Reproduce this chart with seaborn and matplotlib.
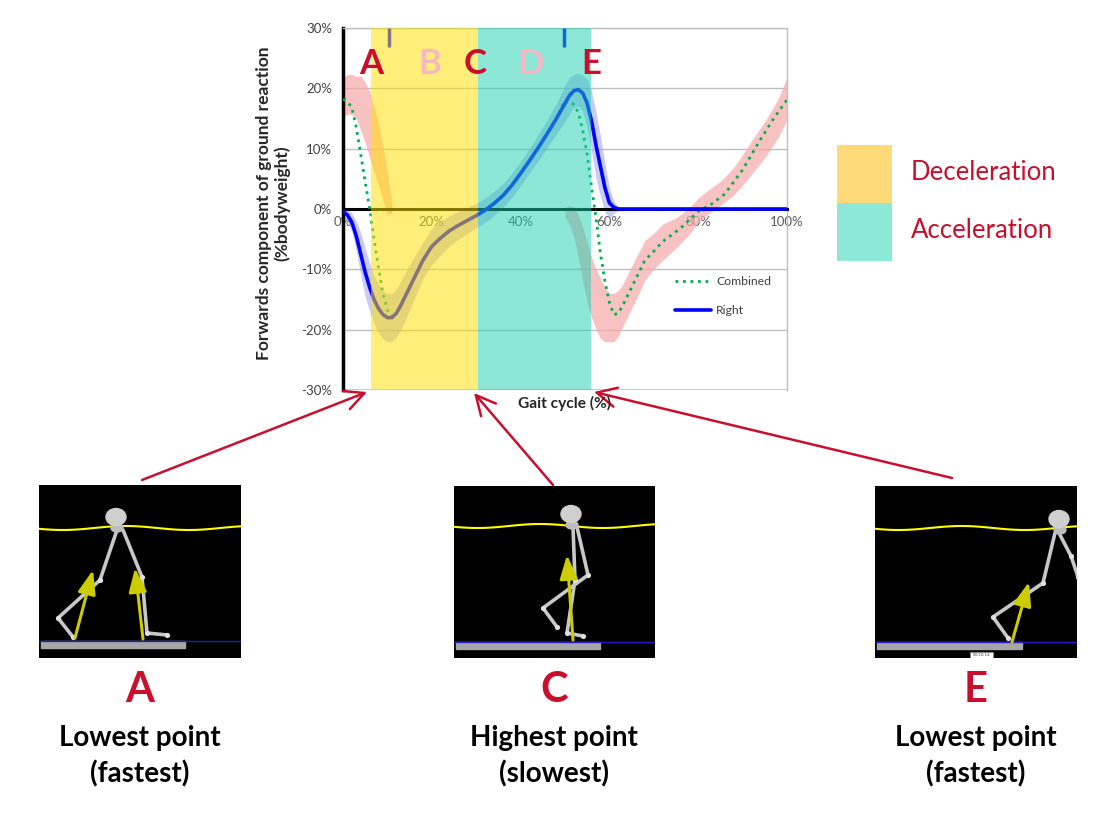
import numpy as np
import pandas as pd
import matplotlib
matplotlib.use("Agg")
import matplotlib.pyplot as plt
from matplotlib.patches import FancyArrowPatch, Rectangle, Ellipse
import seaborn as sns

# ---------------- data ----------------
right_x = [0, 1, 2, 3, 4, 5, 6, 7, 8, 9, 10, 11, 12, 13, 14, 16, 18, 20, 22, 24, 26, 28, 30,
           32, 34, 36, 38, 40, 42, 44, 46, 48, 50, 51, 52, 53, 54, 55, 56, 57, 58, 59, 60,
           61, 62, 64, 70, 80, 90, 100]
right_y = [-0.4, -1.0, -2.2, -4.5, -7.5, -10.5, -13.0, -15.0, -16.5, -17.5, -18.0, -18.0, -17.3,
           -16.0, -14.5, -11.5, -8.5, -6.2, -4.8, -3.6, -2.7, -1.9, -1.1,
           -0.2, 0.9, 2.2, 3.9, 5.9, 8.0, 10.2, 12.5, 14.9, 17.5, 18.8, 19.6, 19.8, 19.2, 17.5,
           14.5, 10.5, 7.0, 3.5, 1.0, 0.3, 0.0, 0.0, 0.0, 0.0, 0.0, 0.0]
right_spread = [0.5, 1.0, 1.5, 2.5, 3.5, 4.0, 4.0, 4.0, 4.0, 4.0, 4.0, 4.0, 4.0, 4.0, 4.0, 3.5,
                3.0, 3.0, 2.8, 2.5, 2.3, 2.2, 2.0, 2.0, 2.0, 2.0, 2.0, 2.0, 2.0, 2.2, 2.3, 2.5,
                3.0, 3.0, 2.7, 2.7, 3.0, 4.0, 5.0, 5.5, 5.0, 4.0, 2.5, 1.0, 0.3, 0.0, 0.0, 0.0,
                0.0, 0.0]

left_early_x = [0, 1, 2, 3, 4, 5, 6, 7, 8, 9, 10, 11]
left_early_y = [18.5, 19.0, 19.0, 18.5, 17.5, 16.0, 14.0, 11.5, 9.0, 6.0, 2.5, 0.3]
left_early_spread = [3.3, 3.3, 3.3, 3.5, 4.5, 5.0, 5.5, 5.5, 5.0, 4.5, 3.5, 1.0]

left_late_x = [50, 51, 52, 53, 54, 55, 56, 57, 58, 59, 60, 61, 62, 63, 64, 66, 68, 70, 72, 75,
               78, 80, 82, 85, 88, 90, 92, 95, 98, 100]
left_late_y = [-0.5, -1.0, -2.2, -4.5, -7.5, -10.5, -13.0, -15.0, -16.5, -17.5, -18.0, -18.0,
               -17.3, -16.0, -14.5, -11.5, -8.5, -7.0, -5.5, -4.0, -2.0, -0.2, 1.0, 2.6, 4.6,
               6.5, 8.5, 11.5, 15.0, 18.3]
left_late_spread = [0.8, 1.5, 2.5, 3.5, 4.5, 5.0, 5.0, 5.0, 5.0, 4.5, 4.0, 4.0, 3.8, 3.5, 3.5,
                    3.5, 3.3, 3.0, 3.0, 2.5, 2.2, 2.0, 2.0, 2.0, 2.3, 2.5, 2.8, 3.0, 3.2, 3.5]

combined_x = [0, 1, 2, 3, 4, 5, 6, 7, 8, 9, 10, 10.5, 11, 12, 13, 14, 16, 18, 20, 22, 24, 26,
              28, 30, 32, 34, 36, 38, 40, 42, 44, 46, 48, 50, 51, 52, 53, 54, 55, 56, 57, 58,
              59, 60, 61, 62, 63, 64, 66, 68, 70, 72, 76, 80, 83, 86, 90, 94, 97, 100]
combined_y = [18.2, 17.8, 16.8, 13.5, 9.0, 4.5, 0.1, -5.0, -9.8, -14.0, -16.8, -17.5, -17.8,
              -17.3, -16.0, -14.5, -11.5, -8.5, -6.2, -4.8, -3.6, -2.7, -1.9, -1.1, -0.2, 0.9,
              2.2, 3.9, 5.9, 8.0, 10.2, 12.5, 14.9, 18.1, 17.8, 17.3, 16.0, 13.0, 9.0, 3.5,
              -1.5, -7.5, -12.0, -15.5, -17.5, -17.3, -16.0, -14.5, -11.5, -8.5, -7.0, -5.4,
              -3.2, -0.4, 0.8, 2.5, 6.5, 11.5, 15.0, 18.1]

phase_names = ["Deceleration", "Acceleration"]
phase_edges = [6.3, 30.4, 55.9]
event_letters = ["A", "B", "C", "D", "E"]
event_x = [6.3, 19.6, 29.7, 42.3, 56.0]
marker_x = [10.3, 49.8]
x_ticks = [0, 20, 40, 60, 80, 100]
y_ticks = [-30, -20, -10, 0, 10, 20, 30]
panel_letters = ["A", "C", "E"]
panel_caption_1 = ["Lowest point", "Highest point", "Lowest point"]
panel_caption_2 = ["(fastest)", "(slowest)", "(fastest)"]

# ---------------- styling ----------------
W, H = 1109, 819
sns.set_theme(style="white")
plt.rcParams["font.family"] = ["Lato", "DejaVu Sans"]

CRIMSON = "#C8102E"
PINK = "#F7B8C2"
YELLOW_OV = "#FFE100"
TEAL_OV = "#1DD1B1"
BLUE = "#0000FF"
GREEN = "#00B050"


def fbox(x0, y0, x1, y1):
    return [x0 / W, 1 - y1 / H, (x1 - x0) / W, (y1 - y0) / H]


fig = plt.figure(figsize=(W / 100, H / 100), dpi=100)
fig.patch.set_facecolor("white")

ax = fig.add_axes(fbox(343, 28, 787, 390))
ax.set_xlim(0, 100)
ax.set_ylim(-30, 30)

# gridlines
for yv in y_ticks:
    ax.axhline(yv, color="#BFBFBF", lw=1.0, zorder=0)

# bands
ax.fill_between(left_early_x, np.array(left_early_y) - np.array(left_early_spread),
                np.array(left_early_y) + np.array(left_early_spread),
                color="#F7A9A8", alpha=0.7, lw=0, zorder=1)
ax.fill_between(left_late_x, np.array(left_late_y) - np.array(left_late_spread),
                np.array(left_late_y) + np.array(left_late_spread),
                color="#F7A9A8", alpha=0.7, lw=0, zorder=1)
ax.fill_between(right_x, np.array(right_y) - np.array(right_spread),
                np.array(right_y) + np.array(right_spread),
                color="#A0A0F0", alpha=0.55, lw=0, zorder=1.2)

df_comb = pd.DataFrame({"x": combined_x, "y": combined_y, "series": "Combined"})
df_right = pd.DataFrame({"x": right_x, "y": right_y, "series": "Right"})
sns.lineplot(data=df_comb, x="x", y="y", ax=ax, color=GREEN, lw=2.0,
             linestyle=(0, (1, 1.7)), label="Combined", zorder=3)
sns.lineplot(data=df_right, x="x", y="y", ax=ax, color=BLUE, lw=2.6,
             label="Right", zorder=3.2, solid_joinstyle="round")

# toe-off / heel-strike markers
for mx in marker_x:
    ax.plot([mx, mx], [30, 26.8], color=BLUE, lw=2.5, zorder=3, solid_capstyle="butt")

# phase overlays
ax.axvspan(phase_edges[0], phase_edges[1], color=YELLOW_OV, alpha=0.52, lw=0, zorder=4)
ax.axvspan(phase_edges[1], phase_edges[2], color=TEAL_OV, alpha=0.5, lw=0, zorder=4)

# event letters
for lt, xv in zip(event_letters, event_x):
    col = CRIMSON if lt in ("A", "C", "E") else PINK
    ax.text(xv, 24, lt, color=col, fontsize=25, fontweight="bold",
            ha="center", va="center", zorder=6)

# axes / spines
ax.spines["left"].set_color("black")
ax.spines["left"].set_linewidth(2.5)
ax.spines["bottom"].set_position(("data", 0))
ax.spines["bottom"].set_color("black")
ax.spines["bottom"].set_linewidth(2.2)
for s in ("top", "right"):
    ax.spines[s].set_color("#BFBFBF")
    ax.spines[s].set_linewidth(1.0)
ax.axhline(-30, color="#BFBFBF", lw=1.2, zorder=0)

ax.set_xticks(x_ticks)
ax.set_xticklabels([f"{v}%" for v in x_ticks])
ax.set_xticks([10, 30, 50, 70, 90], minor=True)
ax.set_yticks(y_ticks)
ax.set_yticklabels([f"{v}%" for v in y_ticks])
ax.tick_params(axis="x", which="both", direction="out", length=3, width=1.5,
               colors="#404040", labelsize=9.5, pad=2, labelcolor="#595959")
ax.tick_params(axis="y", direction="out", length=5, width=1.5, color="black",
               labelsize=9.5, pad=3, labelcolor="#404040")
ax.set_xlabel("")
ax.set_ylabel("")

leg = ax.legend(loc="upper left", bbox_to_anchor=(0.722, 0.345), frameon=False,
                fontsize=8.8, handlelength=3.0, labelspacing=1.45, handletextpad=0.4)
for t in leg.get_texts():
    t.set_color("#404040")

# ---------------- overlay for annotations ----------------
ov = fig.add_axes([0, 0, 1, 1], zorder=10)
ov.set_xlim(0, W)
ov.set_ylim(H, 0)
ov.axis("off")
ov.patch.set_alpha(0)

ov.text(565, 403, "Gait cycle (%)", fontsize=11.2, fontweight="bold",
        ha="center", va="center")
ov.text(273, 203, "Forwards component of ground reaction\n(%bodyweight)", fontsize=12.5,
        fontweight="bold", ha="center", va="center", rotation=90, linespacing=1.15)

# phase legend
ov.add_patch(Rectangle((837, 145), 55, 58, color="#FFDA7A", lw=0))
ov.add_patch(Rectangle((837, 203), 55, 58, color="#8DE8D8", lw=0))
ov.text(911, 173, phase_names[0], color=CRIMSON, fontsize=18.5, ha="left", va="center")
ov.text(911, 231, phase_names[1], color=CRIMSON, fontsize=18.5, ha="left", va="center")

# arrows
for (x0, y0), (x1, y1) in [((142, 480), (367, 392)), ((553, 485), (474, 393)),
                           ((952, 478), (594, 392))]:
    ov.add_patch(FancyArrowPatch((x0, y0), (x1, y1), arrowstyle="->,head_length=0.7,head_width=0.35",
                                 mutation_scale=20, color=CRIMSON, lw=1.8, shrinkA=0, shrinkB=0))

# ---------------- skeleton panels ----------------
BONE = "#C8C8C8"


def panel(px, py, pw, ph, legs, pelvis, arrows, bar_w, wave_y, stamp=False):
    a = fig.add_axes(fbox(px, py, px + pw, py + ph), zorder=5)
    a.set_xlim(0, pw)
    a.set_ylim(ph, 0)
    a.set_facecolor("black")
    a.axis("off")
    a.add_patch(Rectangle((0, 0), pw, ph, color="black", zorder=0))
    xs = np.linspace(0, pw, 60)
    a.plot(xs, wave_y + 2.0 * np.sin(xs / pw * 2 * np.pi * 1.6 + 0.4), color="#FFFF00", lw=1.5, zorder=2)
    a.add_patch(Rectangle((2, 156), bar_w, 7, color="#A6A6A6", zorder=1))
    a.plot([0, pw], [156, 156], color="#2020C0", lw=1.0, zorder=1.5)
    for leg in legs:
        lx, ly = zip(*leg)
        a.plot(lx, ly, color=BONE, lw=2.6, solid_capstyle="round", solid_joinstyle="round", zorder=3)
        a.scatter(lx[1:], ly[1:], s=14, color="#E0E0E0", zorder=3.2, lw=0)
    a.add_patch(Ellipse(pelvis, 20, 17, color="#CFCFCF", zorder=3.5))
    a.add_patch(Ellipse((pelvis[0] + 1, pelvis[1] + 11), 12, 8, color="#BDBDBD", zorder=3.4))
    for (ax0, ay0), (ax1, ay1) in arrows:
        a.add_patch(FancyArrowPatch((ax0, ay0), (ax1, ay1),
                                    arrowstyle="-|>,head_length=0.8,head_width=0.3",
                                    mutation_scale=18, color="#CCCC00", lw=2.2,
                                    shrinkA=0, shrinkB=0, zorder=4))
    if stamp:
        a.add_patch(Rectangle((95, 166), 23, 7, facecolor="white", edgecolor="#888888", lw=0.5, zorder=5))
        a.text(106.5, 169.5, "00:10:14", fontsize=3.2, ha="center", va="center", color="#444444", zorder=6)
    return a


panel(39, 485, 202, 173,
      legs=[[(78, 45), (61, 95), (19, 133), (34, 152)],
            [(84, 45), (103, 92), (108, 148), (128, 150)]],
      pelvis=(77, 32),
      arrows=[((36, 153), (54, 85)), ((104, 154), (96, 83))],
      bar_w=144, wave_y=43)
panel(454, 486, 201, 172,
      legs=[[(119, 41), (121, 94), (113, 147), (129, 150)],
            [(123, 41), (134, 89), (89, 122), (103, 141)]],
      pelvis=(117, 28),
      arrows=[((119, 154), (113, 69))],
      bar_w=144, wave_y=40)
panel(875, 486, 202, 172,
      legs=[[(180, 47), (168, 97), (118, 131), (133, 152)],
            [(184, 47), (196, 70), (203, 91)]],
      pelvis=(184, 33),
      arrows=[((137, 156), (154, 96))],
      bar_w=145, wave_y=42, stamp=True)

# captions
for cx, lt, c1, c2 in zip([140, 554, 976], panel_letters, panel_caption_1, panel_caption_2):
    ov.text(cx, 690, lt, color=CRIMSON, fontsize=30, fontweight="bold", ha="center", va="center")
    ov.text(cx, 738, c1, color="black", fontsize=20, fontweight="bold", ha="center", va="center")
    ov.text(cx, 774, c2, color="black", fontsize=20, fontweight="bold", ha="center", va="center")

fig.savefig("out.png", dpi=100)
